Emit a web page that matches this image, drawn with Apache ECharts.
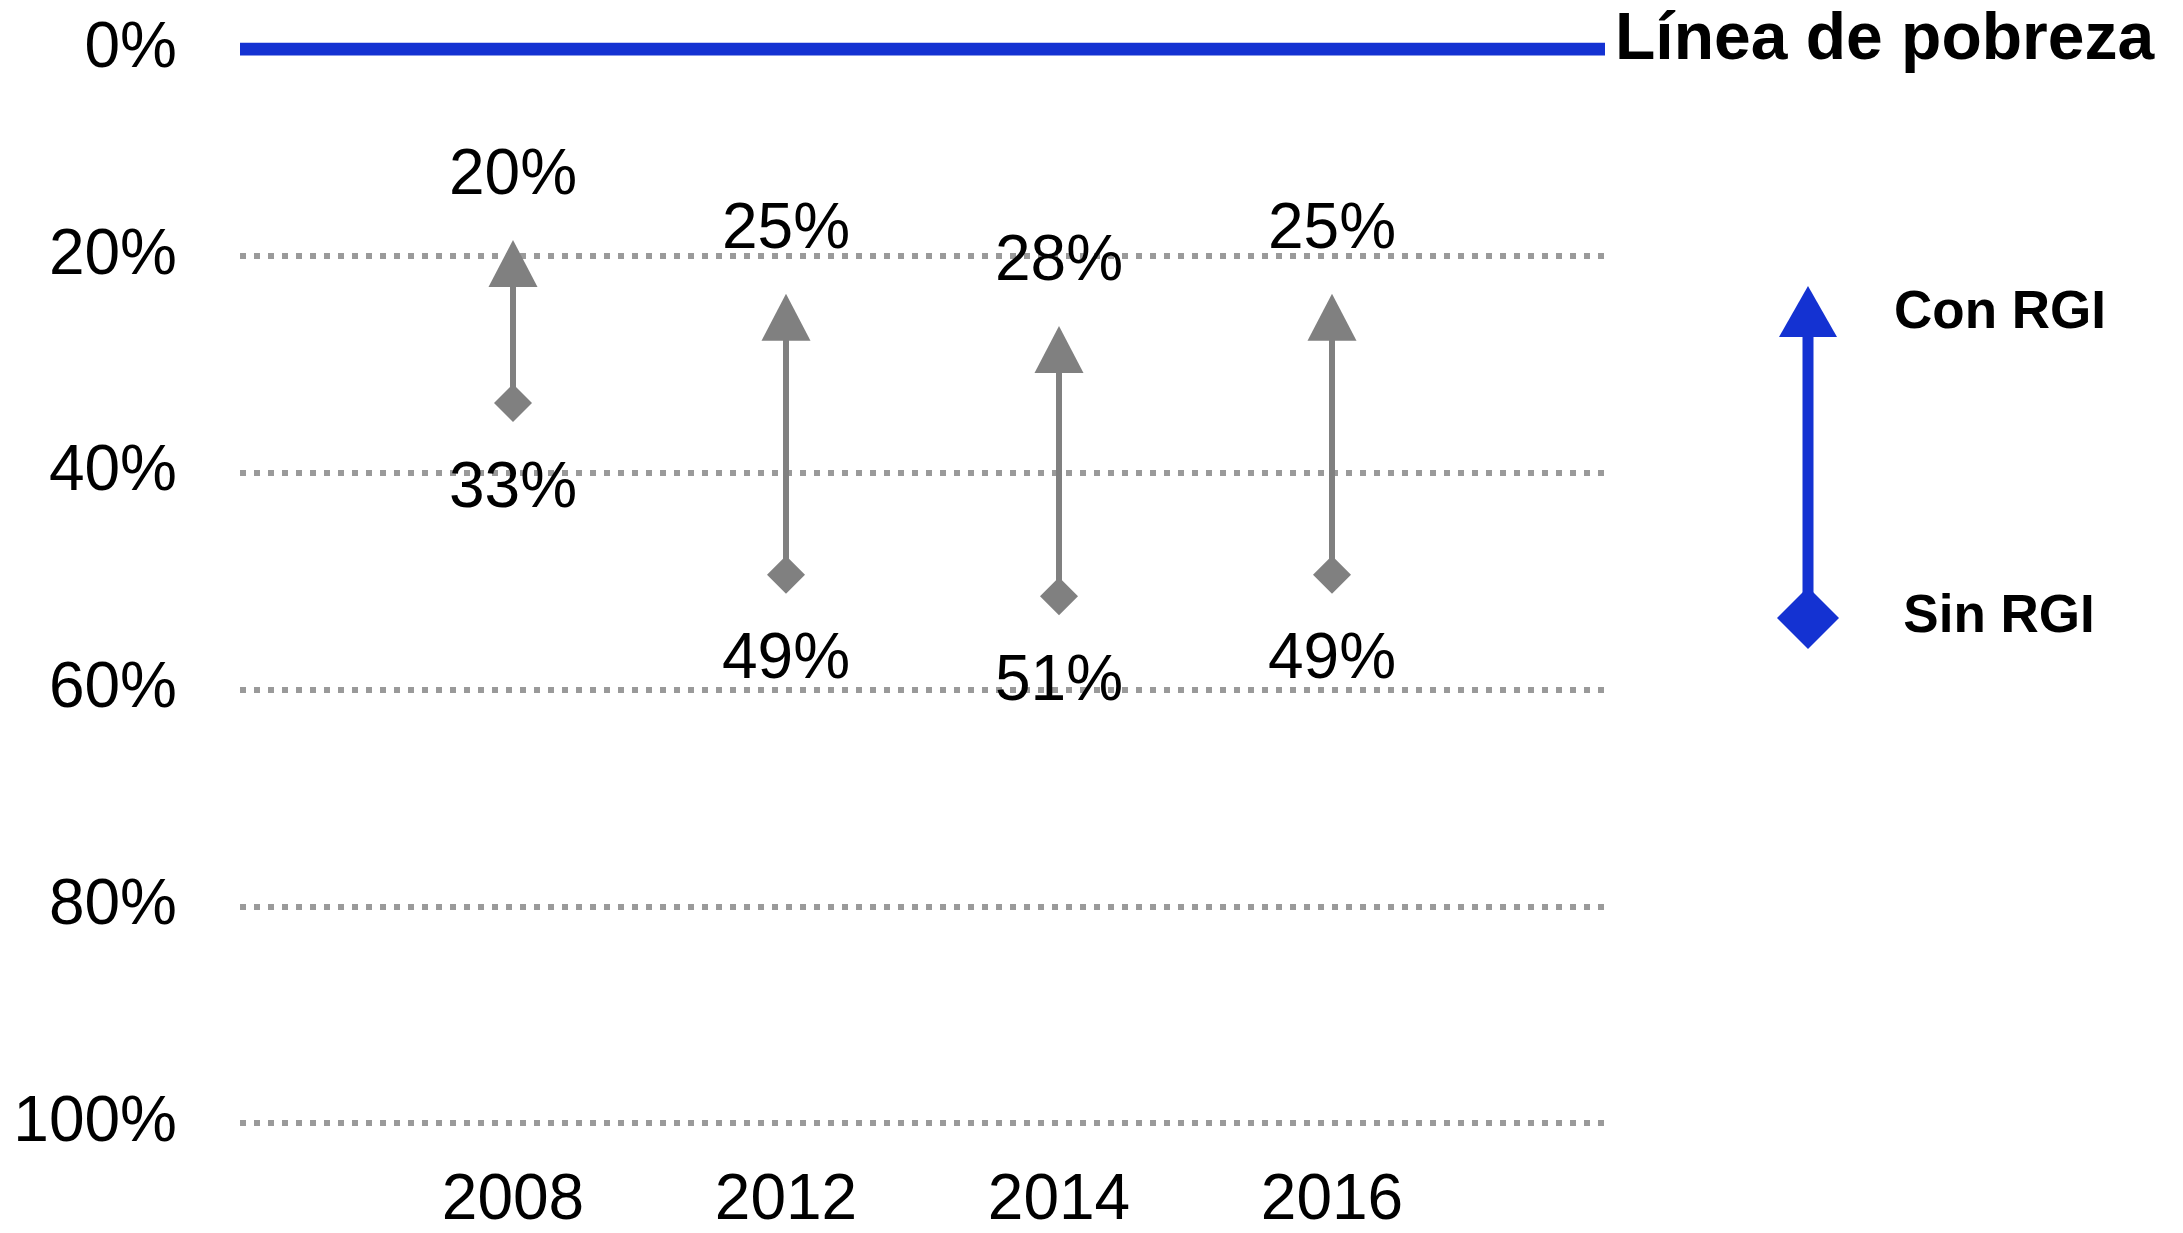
<!DOCTYPE html>
<html>
<head>
<meta charset="utf-8">
<script src="https://cdn.jsdelivr.net/npm/echarts@6/dist/echarts.min.js"></script>
<style>
html,body{margin:0;padding:0;background:#fff;}
#chart{width:2183px;height:1233px;}
</style>
</head>
<body>
<div id="chart"></div>
<script>
// ---- data ----
const years = ['2008', '2012', '2014', '2016'];
const conRGI = [20, 25, 28, 25];   // poverty rate with RGI (arrow tip)
const sinRGI = [33, 49, 51, 49];   // poverty rate without RGI (diamond)
const povertyLine = 0;
const yTicks = [20, 40, 60, 80, 100];

const GRAY = '#808080';
const BLUE = '#1432D2';
const FONT = 'Liberation Sans';

const xPos = years.map((y, i) => i + 1);
const conData = xPos.map((x, i) => [x, conRGI[i]]);
const sinData = xPos.map((x, i) => [x, sinRGI[i]]);
const stemData = xPos.map((x, i) => [x, sinRGI[i], conRGI[i]]);

const chart = echarts.init(document.getElementById('chart'), null, {renderer: 'canvas'});

const dataLabel = (dy) => ({
  show: true, position: 'inside', offset: [0, dy],
  color: '#000', opacity: 1, textBorderWidth: 0, textBorderColor: 'transparent',
  fontFamily: FONT, fontSize: 64,
  formatter: p => p.value[1] + '%'
});

const option = {
  animation: false,
  backgroundColor: '#fff',
  grid: [
    {left: 240, right: 578, top: 49, bottom: 100},   // data grid
    {left: 240, right: 578, top: 256, bottom: 110}   // gridline grid
  ],
  xAxis: [
    {
      type: 'value', gridIndex: 0, min: 0, max: 5, interval: 1,
      axisLine: {show: false}, axisTick: {show: false}, splitLine: {show: false},
      axisLabel: {
        margin: 47, color: '#000', fontFamily: FONT, fontSize: 64,
        formatter: v => years[v - 1] || ''
      }
    },
    {
      type: 'value', gridIndex: 1, min: 0, max: 5, interval: 1, show: false,
      splitLine: {show: false}
    }
  ],
  yAxis: [
    {
      type: 'value', gridIndex: 0, inverse: true, min: 0, max: 100, interval: 20,
      axisLine: {show: false}, axisTick: {show: false}, splitLine: {show: false},
      axisLabel: {
        margin: 63, color: '#000', fontFamily: FONT, fontSize: 64,
        formatter: v => (v === povertyLine ? v + '%' : '')
      }
    },
    {
      type: 'value', gridIndex: 1, inverse: true, min: yTicks[0], max: yTicks[yTicks.length - 1], interval: 20,
      axisLine: {show: false}, axisTick: {show: false},
      axisLabel: {
        margin: 63, color: '#000', fontFamily: FONT, fontSize: 64,
        formatter: v => v + '%'
      },
      splitLine: {show: true, lineStyle: {color: '#9a9a9a', width: 6, type: [6, 8]}}
    }
  ],
  series: [
    {
      name: 'Línea de pobreza',
      type: 'line', xAxisIndex: 0, yAxisIndex: 0,
      data: [[0, povertyLine], [5, povertyLine]],
      symbol: 'none',
      lineStyle: {color: BLUE, width: 13},
      itemStyle: {color: BLUE},
      endLabel: {
        show: true, formatter: '{a}', distance: 10, offset: [0, -8],
        color: '#000', fontFamily: FONT, fontWeight: 'bold', fontSize: 66
      },
      z: 5
    },
    {
      name: 'stems',
      type: 'custom', xAxisIndex: 0, yAxisIndex: 0,
      data: stemData,
      renderItem: function (params, api) {
        const p1 = api.coord([api.value(0), api.value(1)]);
        const p2 = api.coord([api.value(0), api.value(2)]);
        return {
          type: 'line',
          shape: {x1: p1[0], y1: p1[1], x2: p2[0], y2: p2[1]},
          style: {stroke: GRAY, lineWidth: 6}
        };
      },
      z: 2
    },
    {
      name: 'Con RGI',
      type: 'scatter', xAxisIndex: 0, yAxisIndex: 0,
      data: conData,
      symbol: 'triangle', symbolSize: [49, 47],
      itemStyle: {color: GRAY, opacity: 1},
      label: dataLabel(-87),
      z: 3
    },
    {
      name: 'Sin RGI',
      type: 'scatter', xAxisIndex: 0, yAxisIndex: 0,
      data: sinData,
      symbol: 'diamond', symbolSize: [38, 38],
      itemStyle: {color: GRAY, opacity: 1},
      label: dataLabel(86),
      z: 3
    }
  ],
  graphic: [
    {
      type: 'line', shape: {x1: 1808, y1: 330, x2: 1808, y2: 615},
      style: {stroke: BLUE, lineWidth: 11}
    },
    {
      type: 'polygon', shape: {points: [[1808, 286], [1779, 337], [1837, 337]]},
      style: {fill: BLUE}
    },
    {
      type: 'polygon', shape: {points: [[1808, 587], [1839, 618], [1808, 649], [1777, 618]]},
      style: {fill: BLUE}
    },
    {
      type: 'text', x: 2000, y: 313,
      style: {text: 'Con RGI', fill: '#000', font: 'bold 53px "Liberation Sans"', textAlign: 'center', textVerticalAlign: 'middle'}
    },
    {
      type: 'text', x: 1999, y: 617,
      style: {text: 'Sin RGI', fill: '#000', font: 'bold 53px "Liberation Sans"', textAlign: 'center', textVerticalAlign: 'middle'}
    }
  ]
};
chart.setOption(option);
</script>
</body>
</html>
